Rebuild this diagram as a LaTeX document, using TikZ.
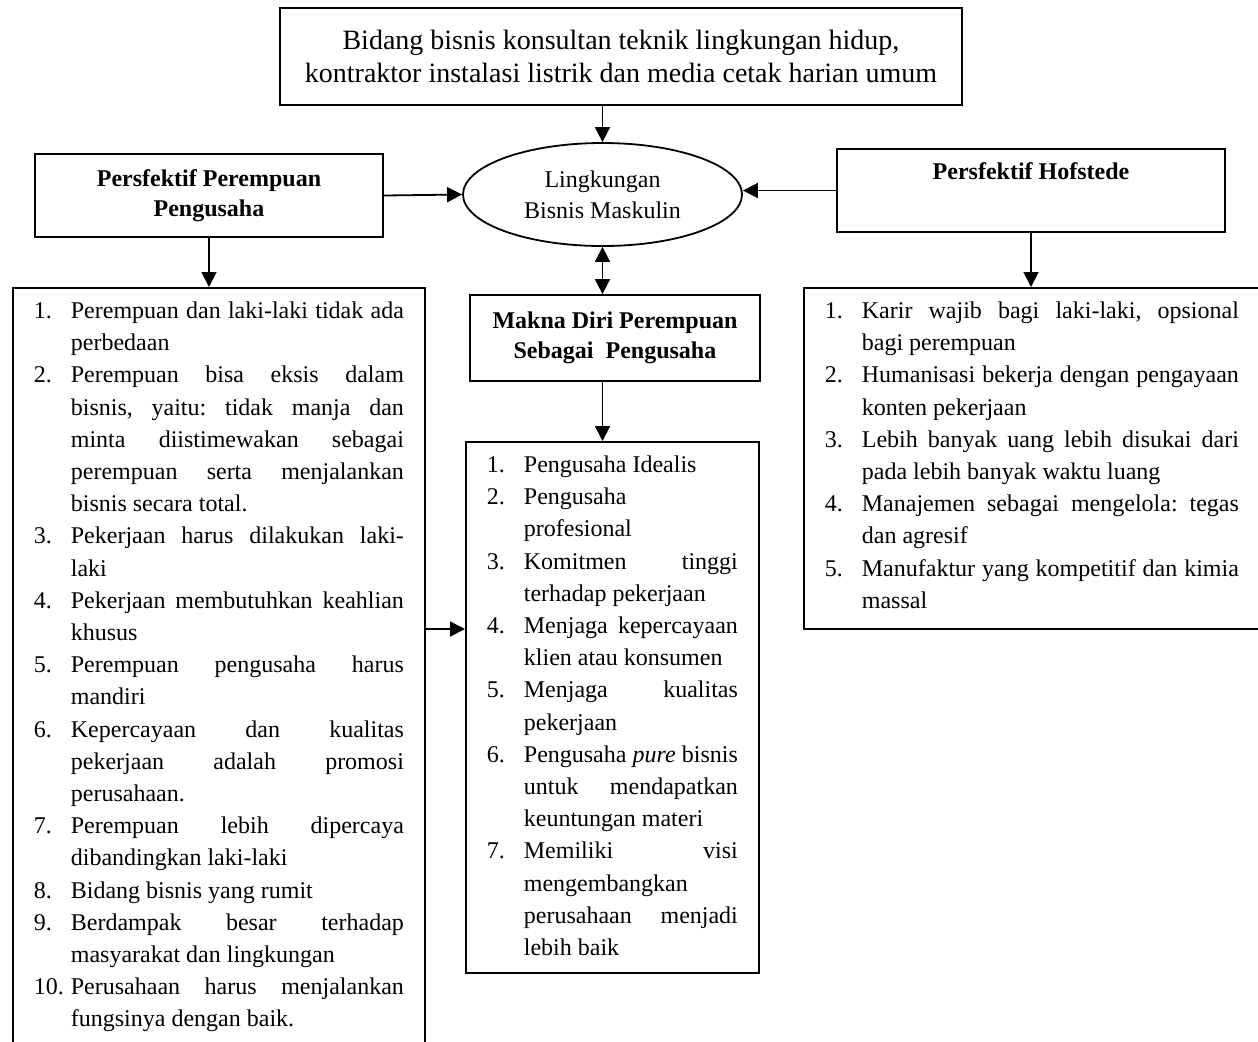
\documentclass[tikz,border=0pt]{standalone}
\usepackage{fontspec}
\setmainfont{Liberation Serif}
\usepackage{enumitem}
\setlist[enumerate]{label=\arabic*., leftmargin=18.5pt, labelsep=2pt, labelwidth=16.5pt, labelindent=0pt, align=left, nosep}
\usetikzlibrary{arrows.meta,shapes.geometric}

% numbered list in a fixed box: height, width, items
\newcommand{\daftar}[3]{\begin{minipage}[c][#1][t]{#2}\hyphenpenalty=10000\tolerance=9999
\frenchspacing\spaceskip=\fontdimen2\font plus \fontdimen3\font minus 0pt\relax
\begin{enumerate}#3\end{enumerate}\end{minipage}}

\begin{document}
\begin{tikzpicture}[x=0.5pt,y=-0.5pt,
	kotak/.style={draw, line width=0.9pt, inner sep=0pt, align=center, font=\fontsize{12}{15.5}\selectfont},
	daftarbox/.style={draw, line width=0.9pt, inner xsep=10.5pt, inner ysep=7pt, anchor=north west, font=\fontsize{12}{16.1}\selectfont},
	panah/.style={line width=0.9pt, -{Triangle[length=7.5pt,width=7.5pt]}},
	panahdua/.style={line width=0.9pt, {Triangle[length=7.5pt,width=7.5pt]}-{Triangle[length=7.5pt,width=7.5pt]}}]

	\useasboundingbox (0,0) rectangle (1258,1041);

	% Coordinates
	\coordinate (tengah) at (0,629);

	% Boxes
	\node[kotak, minimum width=341pt, minimum height=48.5pt, font=\fontsize{14}{16.5}\selectfont] (bidang) at (621,56.5)
		{Bidang bisnis konsultan teknik lingkungan hidup,\\kontraktor instalasi listrik dan media cetak harian umum};
	\node[kotak, ellipse, minimum width=139.5pt, minimum height=51.5pt] (lingkungan) at (602.5,194.5) {Lingkungan\\Bisnis Maskulin};
	\node[kotak, minimum width=174pt, minimum height=41.5pt, font=\bfseries\fontsize{12}{15}\selectfont] (perempuan) at (209,195.5)
		{Persfektif Perempuan\\Pengusaha};
	\node[kotak, minimum width=194pt, minimum height=41.5pt, font=\bfseries\fontsize{12}{15}\selectfont] (hofstede) at (1031,190.5)
		{Persfektif Hofstede\\[4pt]\mbox{}};
	\node[kotak, minimum width=145pt, minimum height=43pt, font=\bfseries\fontsize{12}{15}\selectfont] (makna) at (615,338)
		{Makna Diri Perempuan\\Sebagai~ Pengusaha};

	% Lists
	\node[daftarbox] (daftarkiri) at (12,287) {\daftar{372pt}{185pt}{
		\item Perempuan dan laki-laki tidak ada perbedaan
		\item Perempuan bisa eksis dalam bisnis, yaitu: tidak manja dan minta diistimewakan sebagai perempuan serta menjalankan bisnis secara total.
		\item Pekerjaan harus dilakukan laki-laki
		\item Pekerjaan membutuhkan keahlian khusus
		\item Perempuan pengusaha harus mandiri
		\item Kepercayaan dan kualitas pekerjaan adalah promosi perusahaan.
		\item Perempuan lebih dipercaya dibandingkan laki-laki
		\item Bidang bisnis yang rumit
		\item Berdampak besar terhadap masyarakat dan lingkungan
		\item Perusahaan harus menjalankan fungsinya dengan baik.}};
	\node[daftarbox] (daftartengah) at (465,441) {\daftar{251.5pt}{125.5pt}{
		\item Pengusaha Idealis
		\item Pengusaha profesional
		\item Komitmen tinggi terhadap pekerjaan
		\item Menjaga kepercayaan klien atau konsumen
		\item Menjaga kualitas pekerjaan
		\item Pengusaha \emph{pure} bisnis untuk mendapatkan keuntungan materi
		\item Memiliki visi mengembangkan perusahaan menjadi lebih baik}};
	\node[daftarbox] (daftarkanan) at (803,287) {\daftar{156.5pt}{207pt}{
		\item Karir wajib bagi laki-laki, opsional bagi perempuan
		\item Humanisasi bekerja dengan pengayaan konten pekerjaan
		\item Lebih banyak uang lebih disukai dari pada lebih banyak waktu luang
		\item Manajemen sebagai mengelola: tegas dan agresif
		\item Manufaktur yang kompetitif dan kimia massal}};

	% Arrows
	\draw[panah] (bidang.south -| lingkungan.north) -- (lingkungan.north);
	\draw[panah] (perempuan.east) -- (lingkungan.west);
	\draw[panah] (hofstede.west) -- (hofstede.west -| lingkungan.east);
	\draw[panahdua] (lingkungan.south) -- (lingkungan.south |- makna.north);
	\draw[panah] (lingkungan.south |- makna.south) -- (lingkungan.south |- daftartengah.north);
	\draw[panah] (perempuan.south) -- (perempuan.south |- daftarkiri.north);
	\draw[panah] (hofstede.south) -- (hofstede.south |- daftarkanan.north);
	\draw[panah] (daftarkiri.east |- tengah) -- (daftartengah.west |- tengah);

\end{tikzpicture}
\end{document}
